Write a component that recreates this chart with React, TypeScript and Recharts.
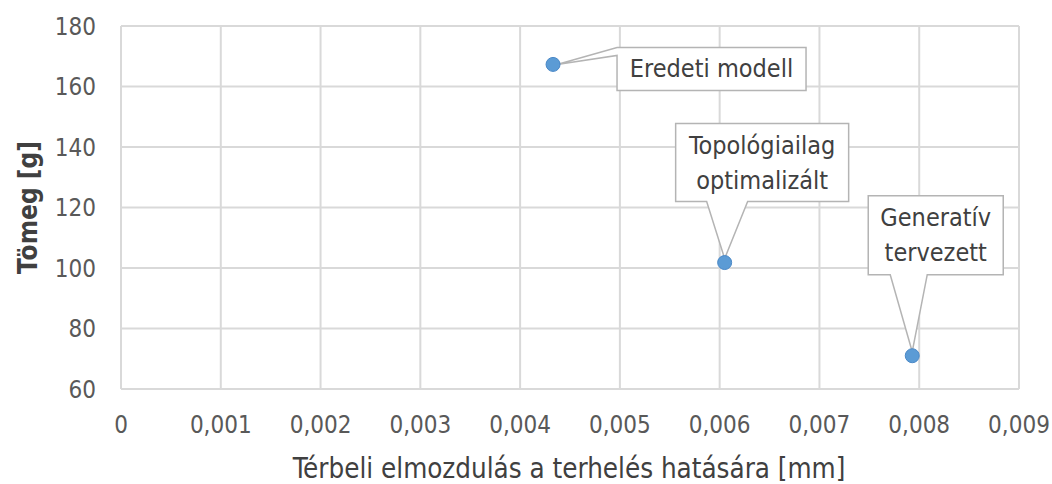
import React from 'react';
import { ScatterChart, Scatter, XAxis, YAxis, CartesianGrid } from 'recharts';

// displacement [mm] vs mass [g]
const names = ['Eredeti modell', 'Topológiailag optimalizált', 'Generatív tervezett'];
const displacement = [0.00433, 0.00605, 0.00793];
const mass = [167.3, 101.8, 71];

const xTicks = [0, 0.001, 0.002, 0.003, 0.004, 0.005, 0.006, 0.007, 0.008, 0.009];
const yTicks = [60, 80, 100, 120, 140, 160, 180];

const data = names.map((name, i) => ({ name, x: displacement[i], y: mass[i] }));

const FONT = '"Liberation Sans Narrow", "DejaVu Sans Condensed", "Open Sans", sans-serif';
const GRID = '#d9d9d9';
const BOX = '#b4b4b4';

// callout geometry relative to the point (box edges + wedge base)
const callouts: Record<string, any> = {
  'Eredeti modell': { l: 64, r: 253, t: -17, b: 26, side: 'left', w1: 0, w2: 8, lines: ['Eredeti modell'] },
  'Topológiailag optimalizált': { l: -49, r: 124, t: -139, b: -61, side: 'bottom', w1: -18, w2: 23, lines: ['Topológiailag', 'optimalizált'] },
  'Generatív tervezett': { l: -44, r: 91, t: -160, b: -81, side: 'bottom', w1: -22, w2: 15, lines: ['Generatív', 'tervezett'] },
};

const fmt = (v: number) => (v === 0 ? '0' : v.toFixed(3).replace('.', ','));

function PointWithCallout(props: any) {
  const { cx, cy, payload } = props;
  const c = callouts[payload.name];
  const L = cx + c.l, R = cx + c.r, T = cy + c.t, B = cy + c.b;
  let d = '';
  if (c.side === 'left') {
    d = `M${L},${T} L${R},${T} L${R},${B} L${L},${B} L${L},${T + c.w2} L${cx + 4},${cy} Z`;
  } else {
    d = `M${L},${T} L${R},${T} L${R},${B} L${cx + c.w2},${B} L${cx},${cy - 4} L${cx + c.w1},${B} L${L},${B} Z`;
  }
  const midX = (L + R) / 2;
  const midY = (T + B) / 2;
  const lh = 35;
  return (
    <g>
      <path d={d} fill="#fff" stroke={BOX} strokeWidth={1.5} />
      {c.lines.map((ln: string, i: number) => (
        <text
          key={ln}
          x={midX}
          y={midY + (i - (c.lines.length - 1) / 2) * lh}
          textAnchor="middle"
          dominantBaseline="central"
          fontFamily={FONT}
          fontSize={25}
          fill="#404040"
        >
          {ln}
        </text>
      ))}
      <circle cx={cx} cy={cy} r={7} fill="#5b9bd5" stroke="#4a88c7" strokeWidth={1} />
    </g>
  );
}

export default function App() {
  return (
    <div style={{ position: 'fixed', left: 0, top: 0, width: 1052, height: 484, background: '#fff' }}>
      <ScatterChart width={1052} height={484} margin={{ top: 26, right: 33, left: 0, bottom: 0 }}>
        <CartesianGrid stroke={GRID} strokeWidth={2} horizontalValues={yTicks} verticalValues={xTicks} />
        <XAxis
          type="number"
          dataKey="x"
          domain={[0, 0.009]}
          ticks={xTicks}
          tickFormatter={fmt}
          height={95}
          axisLine={{ stroke: GRID, strokeWidth: 2 }}
          tickLine={false}
          tickSize={27}
          tickMargin={0}
          tick={{ fill: '#595959', fontSize: 24, fontFamily: FONT }}
          interval={0}
          label={{
            content: ({ viewBox }: any) => (
              <text
                x={viewBox.x + viewBox.width / 2 - 1}
                y={468}
                textAnchor="middle"
                dominantBaseline="central"
                fontFamily={FONT}
                fontSize={27.5}
                fill="#404040"
              >
                Térbeli elmozdulás a terhelés hatására [mm]
              </text>
            ),
          }}
        />
        <YAxis
          type="number"
          dataKey="y"
          domain={[60, 180]}
          ticks={yTicks}
          width={121}
          axisLine={false}
          tickLine={false}
          tickSize={25}
          tickMargin={0}
          tick={{ fill: '#595959', fontSize: 24, fontFamily: FONT }}
          interval={0}
          label={{
            content: ({ viewBox }: any) => {
              const x = 28;
              const y = viewBox.y + viewBox.height / 2;
              return (
                <text
                  x={x}
                  y={y}
                  transform={`rotate(-90, ${x}, ${y})`}
                  textAnchor="middle"
                  dominantBaseline="central"
                  fontFamily={FONT}
                  fontSize={26}
                  fontWeight="bold"
                  fill="#404040"
                >
                  Tömeg [g]
                </text>
              );
            },
          }}
        />
        <Scatter data={data} isAnimationActive={false} shape={(p: any) => <PointWithCallout {...p} />} />
      </ScatterChart>
    </div>
  );
}
